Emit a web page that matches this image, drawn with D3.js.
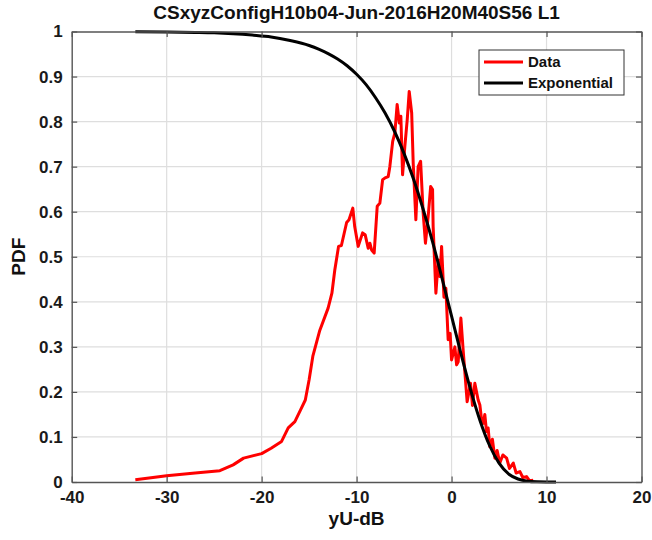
<!DOCTYPE html>
<html>
<head>
<meta charset="utf-8">
<script src="https://cdn.jsdelivr.net/npm/d3@7"></script>
<style>
  body { margin: 0; background: #fff; }
  text { font-family: "Liberation Sans", Arial, sans-serif; font-weight: bold; }
</style>
</head>
<body>
<div id="chart"></div>
<script>
const width = 652;
const height = 540;
const margin = { top: 31.5, right: 10.5, left: 71.7, bottom: 58 };

const title = 'CSxyzConfigH10b04-Jun-2016H20M40S56 L1';
const x_label = 'yU-dB';
const y_label = 'PDF';

const x_ticks = [-40, -30, -20, -10, 0, 10, 20];
const y_ticks = [0, 0.1, 0.2, 0.3, 0.4, 0.5, 0.6, 0.7, 0.8, 0.9, 1];

// red "Data" curve
const data_x = [-33.3, -30, -27, -24.4, -23, -21.9, -20, -19, -17.9, -17.2, -16.5, -15.9, -15.4, -15.0,
  -14.6, -13.9, -13.0, -12.6, -12.3, -11.9, -11.6, -11.05, -10.8, -10.4, -10.2, -9.83, -9.37, -9.1,
  -8.78, -8.6, -8.42, -8.15, -7.83, -7.55, -7.26, -7.0, -6.67, -6.5, -6.2, -5.97, -5.73, -5.5, -5.34,
  -5.16, -4.92, -4.67, -4.46, -4.2, -4.04, -3.76, -3.52, -3.26, -2.99, -2.75, -2.46, -2.2, -2.0, -1.94,
  -1.65, -1.4, -1.23, -1.05, -0.8, -0.6, -0.36, -0.15, 0.0, 0.35, 0.53, 0.7, 0.98, 1.22, 1.64, 2.0,
  2.2, 2.45, 2.8, 2.98, 3.15, 3.33, 3.5, 3.68, 3.85, 4.03, 4.3, 4.56, 4.8, 5.08, 5.4, 5.8, 6.1, 6.5,
  6.8, 7.2, 7.5, 7.9, 8.2, 8.6];
const data_y = [0.005, 0.014, 0.02, 0.025, 0.038, 0.053, 0.063, 0.075, 0.09, 0.12, 0.134, 0.16, 0.182, 0.227,
  0.28, 0.335, 0.386, 0.419, 0.47, 0.523, 0.525, 0.576, 0.582, 0.608, 0.567, 0.523, 0.553, 0.549,
  0.519, 0.53, 0.515, 0.508, 0.612, 0.619, 0.671, 0.675, 0.678, 0.70, 0.756, 0.775, 0.838, 0.797, 0.812,
  0.682, 0.745, 0.804, 0.867, 0.819, 0.708, 0.582, 0.70, 0.712, 0.597, 0.53, 0.59, 0.656, 0.649, 0.567,
  0.419, 0.493, 0.456, 0.523, 0.41, 0.43, 0.316, 0.33, 0.271, 0.30, 0.26, 0.267, 0.364, 0.293, 0.178, 0.219,
  0.17, 0.219, 0.182, 0.171, 0.14, 0.13, 0.15, 0.112, 0.12, 0.078, 0.095, 0.053, 0.07, 0.042, 0.06, 0.053, 0.03, 0.042,
  0.02, 0.023, 0.01, 0.012, 0.003, 0.004];

// black "Exponential" curve
const expo_x = [-33.3, -30, -27, -25, -23, -21, -19, -17, -15, -14, -13, -12, -11, -10, -9, -8, -7, -6,
  -5, -4, -3, -2, -1, 0, 1, 2, 3, 4, 5, 6, 7, 8, 9, 10, 11];
const expo_y = [0.9995, 0.999, 0.998, 0.997, 0.995, 0.992, 0.988, 0.980, 0.969, 0.961, 0.951, 0.939, 0.924,
  0.905, 0.882, 0.853, 0.819, 0.778, 0.729, 0.672, 0.606, 0.533, 0.452, 0.368, 0.284, 0.205, 0.136, 0.081,
  0.042, 0.018, 0.0067, 0.0018, 0.0004, 0.00005, 0];

const series = [
  { name: 'Data', color: '#ff0000', xs: data_x, ys: data_y, curve: d3.curveLinear },
  { name: 'Exponential', color: '#000000', xs: expo_x, ys: expo_y, curve: d3.curveMonotoneX }
];

const svg = d3.select('#chart')
  .append('svg')
  .attr('width', width)
  .attr('height', height);

const xScale = d3.scaleLinear()
  .domain([-40, 20])
  .range([margin.left, width - margin.right]);

const yScale = d3.scaleLinear()
  .domain([0, 1])
  .range([height - margin.bottom, margin.top]);

const x0 = xScale.range()[0], x1 = xScale.range()[1];
const y0 = yScale.range()[0], y1 = yScale.range()[1];

// grid
svg.append('g')
  .selectAll('line')
  .data(x_ticks.slice(1, -1))
  .join('line')
  .attr('x1', (d) => xScale(d)).attr('x2', (d) => xScale(d))
  .attr('y1', y0).attr('y2', y1)
  .attr('stroke', '#dedede').attr('stroke-width', 1.2);

svg.append('g')
  .selectAll('line')
  .data(y_ticks.slice(1, -1))
  .join('line')
  .attr('x1', x0).attr('x2', x1)
  .attr('y1', (d) => yScale(d)).attr('y2', (d) => yScale(d))
  .attr('stroke', '#dedede').attr('stroke-width', 1.2);

// curves
series.forEach((s) => {
  const pts = s.xs.map((x, i) => [x, s.ys[i]]);
  svg.append('path')
    .datum(pts)
    .attr('fill', 'none')
    .attr('stroke', s.color)
    .attr('stroke-width', 3)
    .attr('stroke-linejoin', 'round')
    .attr('d', d3.line().x((d) => xScale(d[0])).y((d) => yScale(d[1])).curve(s.curve));
});

// axes, ticks pointing inward on all sides (matlab box)
const tick = 5.5;
const axisColor = '#555';
const plain = (d) => String(d); // hyphen minus like matlab

const xAxis = d3.axisBottom(xScale).tickValues(x_ticks).tickSizeInner(-tick).tickSizeOuter(0).tickPadding(9)
  .tickFormat(plain);
const yAxis = d3.axisLeft(yScale).tickValues(y_ticks).tickSizeInner(-tick).tickSizeOuter(0).tickPadding(9)
  .tickFormat(plain);

const gx = svg.append('g').attr('transform', `translate(0,${y0})`).call(xAxis);
const gy = svg.append('g').attr('transform', `translate(${x0},0)`).call(yAxis);
const gxt = svg.append('g').attr('transform', `translate(0,${y1})`)
  .call(d3.axisTop(xScale).tickValues(x_ticks).tickSizeInner(-tick).tickSizeOuter(0).tickFormat(''));
const gyr = svg.append('g').attr('transform', `translate(${x1},0)`)
  .call(d3.axisRight(yScale).tickValues(y_ticks).tickSizeInner(-tick).tickSizeOuter(0).tickFormat(''));

[gx, gy, gxt, gyr].forEach((g) => {
  g.select('.domain').attr('stroke', axisColor).attr('stroke-width', 1.4);
  g.selectAll('.tick line').attr('stroke', axisColor).attr('stroke-width', 1.2);
  g.selectAll('.tick text')
    .attr('fill', '#1a1a1a')
    .style('font-size', '17px')
    .style('font-family', '"Liberation Sans", Arial, sans-serif')
    .style('font-weight', 'bold');
});

// title and labels
svg.append('text')
  .attr('x', (x0 + x1) / 2)
  .attr('y', 19)
  .attr('text-anchor', 'middle')
  .attr('fill', '#111')
  .style('font-size', '19px')
  .text(title);

svg.append('text')
  .attr('x', (x0 + x1) / 2)
  .attr('y', 525)
  .attr('text-anchor', 'middle')
  .attr('fill', '#111')
  .style('font-size', '19px')
  .text(x_label);

svg.append('text')
  .attr('transform', `translate(25,${(y0 + y1) / 2}) rotate(-90)`)
  .attr('text-anchor', 'middle')
  .attr('fill', '#111')
  .style('font-size', '19px')
  .text(y_label);

// legend
const legend = svg.append('g').attr('transform', 'translate(479,50)');
legend.append('rect')
  .attr('width', 145).attr('height', 45)
  .attr('fill', '#fff').attr('stroke', '#333').attr('stroke-width', 1);

series.forEach((s, i) => {
  const ly = 12 + i * 21;
  legend.append('line')
    .attr('x1', 5).attr('x2', 44)
    .attr('y1', ly).attr('y2', ly)
    .attr('stroke', s.color).attr('stroke-width', 3);
  legend.append('text')
    .attr('x', 49).attr('y', ly + 5)
    .attr('fill', '#111')
    .style('font-size', '15px')
    .text(s.name);
});
</script>
</body>
</html>
